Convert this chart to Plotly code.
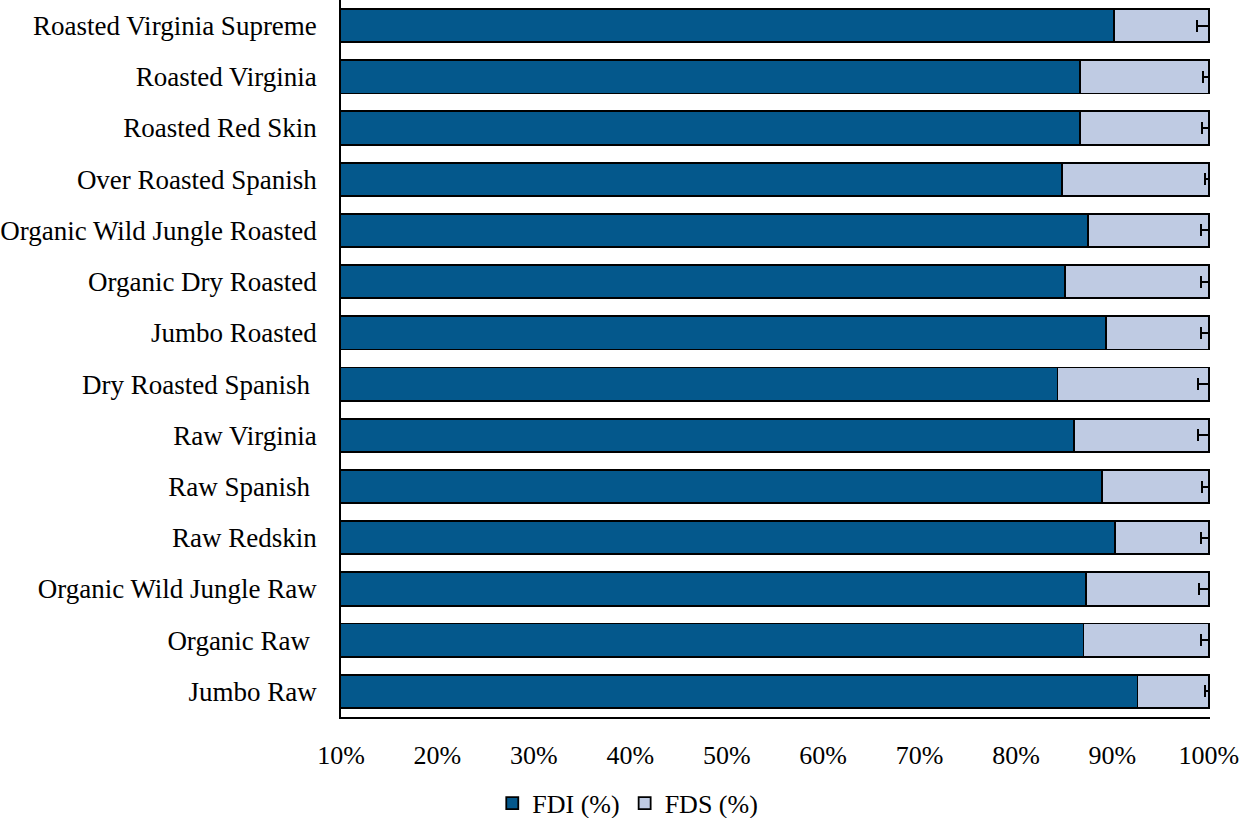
import plotly.graph_objects as go

# Peanut samples, listed top to bottom as displayed
samples = [
    "Roasted Virginia Supreme",
    "Roasted Virginia",
    "Roasted Red Skin",
    "Over Roasted Spanish",
    "Organic Wild Jungle Roasted",
    "Organic Dry Roasted",
    "Jumbo Roasted",
    "Dry Roasted Spanish\u00a0",
    "Raw Virginia",
    "Raw Spanish\u00a0",
    "Raw Redskin",
    "Organic Wild Jungle Raw",
    "Organic Raw\u00a0",
    "Jumbo Raw",
]

# Insoluble dietary fibre share (%)
fdi = [90.2, 86.6, 86.6, 84.8, 87.5, 85.1, 89.3, 84.3, 86.0, 88.9, 90.3, 87.3, 87.0, 92.6]
# Soluble dietary fibre share (%), the remainder of the total
fds = [round(100 - v, 1) for v in fdi]
# Standard deviation shown on the total
fds_sd = [1.2, 0.6, 0.7, 0.45, 0.8, 0.8, 0.8, 1.1, 1.1, 0.7, 0.8, 1.0, 0.8, 0.45]

x_ticks = [10, 20, 30, 40, 50, 60, 70, 80, 90, 100]
x_tick_labels = [f"{t}%" for t in x_ticks]

FONT = "Liberation Serif, Times New Roman, serif"
DARK = "#04588C"
LIGHT = "#BFCBE3"

fig = go.Figure()
fig.add_trace(go.Bar(
    y=samples, x=fdi, name="FDI (%)", orientation="h",
    marker=dict(color=DARK, line=dict(color="black", width=1.8)),
))
fig.add_trace(go.Bar(
    y=samples, x=fds, name="FDS (%)", orientation="h",
    marker=dict(color=LIGHT, line=dict(color="black", width=1.8)),
    error_x=dict(type="data", symmetric=False, array=[0] * len(fds_sd),
                 arrayminus=fds_sd, color="black", thickness=2, width=6),
))

fig.update_layout(
    width=1239, height=818,
    margin=dict(l=341, r=29, t=0, b=101, autoexpand=False),
    barmode="stack", bargap=0.35,
    plot_bgcolor="white", paper_bgcolor="white",
    font=dict(family=FONT, size=26, color="black"),
    legend=dict(orientation="h", x=0.33, xanchor="center",
                yref="container", y=0.018, yanchor="middle",
                font=dict(size=26), traceorder="normal"),
)
fig.update_xaxes(
    range=[10, 100.12], tickvals=x_ticks, ticktext=x_tick_labels,
    showgrid=False, zeroline=False, showline=True, linecolor="black",
    linewidth=1.5, ticks="", ticklabelstandoff=14, ticklabeloverflow="allow",
)
fig.update_yaxes(
    autorange="reversed", showgrid=False, zeroline=False, showline=True,
    linecolor="black", linewidth=1.5, ticks="", ticklabelstandoff=17,
    tickfont=dict(size=27),
)

fig.write_html("out.html")
